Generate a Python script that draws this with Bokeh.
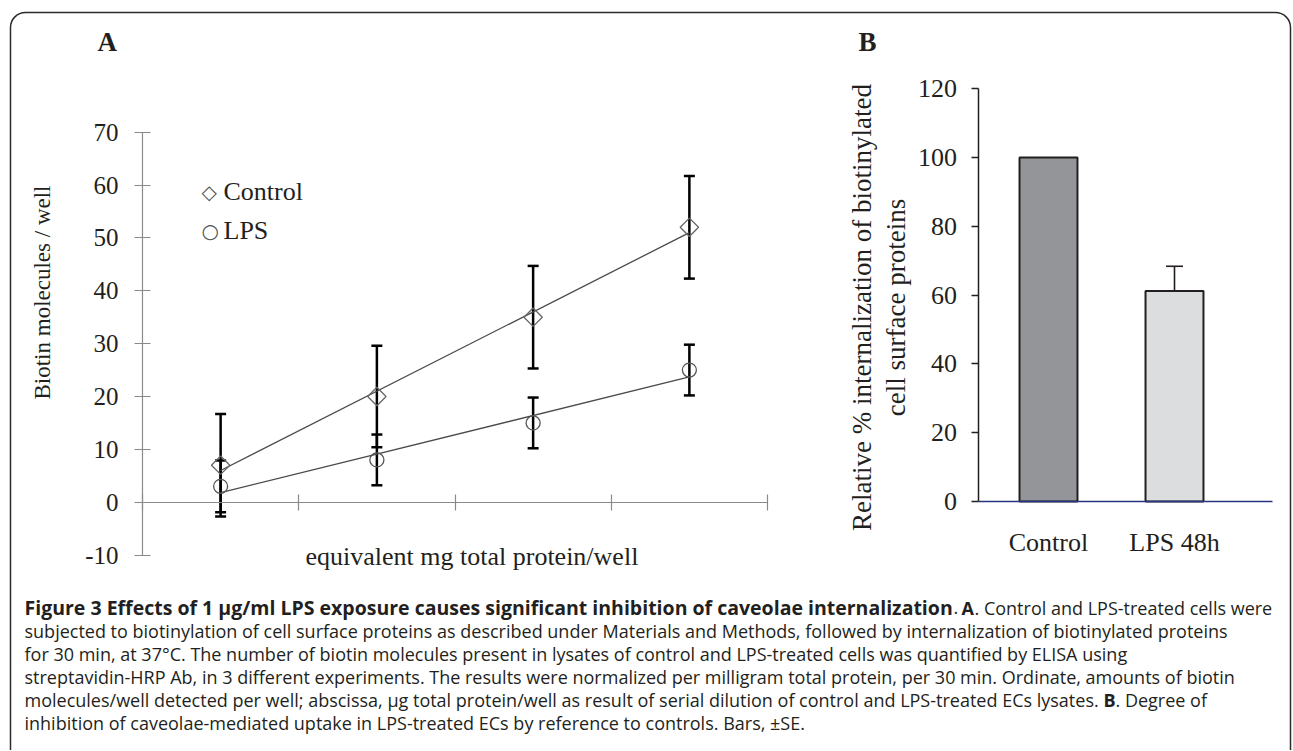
import numpy as np
from bokeh.plotting import figure
from bokeh.models import (Range1d, LinearAxis, FixedTicker, Whisker, TeeHead, Label,
                          BoxAnnotation, ColumnDataSource)
from bokeh.embed import file_html
from bokeh.resources import INLINE

# ---------------- data ----------------
dilution_steps = [1, 2, 3, 4]
control_mean = [7, 20, 35, 52]
control_se = [9.7, 9.6, 9.7, 9.7]
lps_mean = [3, 8, 15, 25]
lps_se = [4.9, 4.8, 4.8, 4.8]
a_yticks = [-10, 0, 10, 20, 30, 40, 50, 60, 70]
a_xticks = [0.5, 1.5, 2.5, 3.5, 4.5]

b_categories = ["Control", "LPS 48h"]
b_values = [100, 61.2]
b_err_index = [1]
b_err_se = [7.2]
b_yticks = [0, 20, 40, 60, 80, 100, 120]

caption_title = "Figure 3 Effects of 1 \u00b5g/ml LPS exposure causes significant inhibition of caveolae internalization"
caption_lines = [
    "subjected to biotinylation of cell surface proteins as described under Materials and Methods, followed by internalization of biotinylated proteins",
    "for 30 min, at 37\u00b0C. The number of biotin molecules present in lysates of control and LPS-treated cells was quantified by ELISA using",
    "streptavidin-HRP Ab, in 3 different experiments. The results were normalized per milligram total protein, per 30 min. Ordinate, amounts of biotin",
]
caption_line5 = "molecules/well detected per well; abscissa, \u00b5g total protein/well as result of serial dilution of control and LPS-treated ECs lysates."
caption_line6 = "inhibition of caveolae-mediated uptake in LPS-treated ECs by reference to controls. Bars, \u00b1SE."

# ---------------- layout (page pixels; canvas starts at page 0,0) ----------------
W, H = 1292, 750
SERIF = "Liberation Serif"
SANS = "Open Sans"
INK = "#231f20"

# panel A mapping
A_X_PX, A_X_STEP = 142.0, 156.25     # x value 0.5 at page x 142
A_Y0_PX, A_Y_SCALE = 501.7, 5.286    # y value 0 at page y 501.7


def ax_v(px):
    return 0.5 + (px - A_X_PX) / A_X_STEP


def ay_v(py):
    return (A_Y0_PX - py) / A_Y_SCALE


# panel B mapping
B_X0_PX, B_X_STEP = 1048.0, 126.0
B_Y0_PX, B_Y_SCALE = 501.0, 3.439


def bx_v(px):
    return (px - B_X0_PX) / B_X_STEP


def by_v(py):
    return (B_Y0_PX - py) / B_Y_SCALE


p = figure(width=W, height=H, x_range=Range1d(0, W), y_range=Range1d(H, 0),
           x_axis_type=None, y_axis_type=None, toolbar_location=None,
           output_backend="svg", min_border=0, min_border_left=0, min_border_right=0,
           min_border_top=0, min_border_bottom=0)
p.outline_line_color = None
p.background_fill_color = "white"
p.border_fill_color = "white"

p.extra_x_ranges = {"ax": Range1d(ax_v(0), ax_v(W)),
                    "bx": Range1d(bx_v(0), bx_v(W))}
p.extra_y_ranges = {"ay": Range1d(ay_v(H), ay_v(0)),
                    "by": Range1d(by_v(H), by_v(0))}

# frame border
p.add_layout(BoxAnnotation(left=10, right=1290, top=12, bottom=1000,
                           fill_alpha=0, line_color="#2b2b2b", line_alpha=1.0,
                           line_width=1.5, border_radius=15))

# ---------------- panel A ----------------
for vals in (control_mean, lps_mean):
    coef = np.polyfit(dilution_steps, vals, 1)
    tx = [dilution_steps[0], dilution_steps[-1]]
    p.line(tx, list(np.polyval(coef, tx)), line_color="#4a4a4a", line_width=1.3,
           x_range_name="ax", y_range_name="ay")

p.scatter(dilution_steps, control_mean, marker="square", angle=np.pi / 4, size=13,
          fill_color=None, line_color="#666666", line_width=1.3,
          x_range_name="ax", y_range_name="ay")
p.scatter(dilution_steps, lps_mean, marker="circle", size=14,
          fill_color=None, line_color="#555555", line_width=1.3,
          x_range_name="ax", y_range_name="ay")

for mean, se in ((control_mean, control_se), (lps_mean, lps_se)):
    src = ColumnDataSource(dict(x=dilution_steps,
                                lower=[m - s for m, s in zip(mean, se)],
                                upper=[m + s for m, s in zip(mean, se)]))
    p.add_layout(Whisker(source=src, base="x", lower="lower", upper="upper",
                         x_range_name="ax", y_range_name="ay",
                         line_color="black", line_width=2.5,
                         upper_head=TeeHead(size=11, line_color="black", line_width=2.5),
                         lower_head=TeeHead(size=11, line_color="black", line_width=2.5)))

yA = LinearAxis(x_range_name="ax", y_range_name="ay", fixed_location=0.5,
                bounds=(a_yticks[0], a_yticks[-1]), ticker=FixedTicker(ticks=a_yticks),
                axis_line_color="#8a8a8a", axis_line_width=1.2,
                major_tick_line_color="#8a8a8a", major_tick_line_width=1.2,
                major_tick_in=8, major_tick_out=8, minor_tick_line_color=None,
                major_label_overrides={t: str(t) for t in a_yticks},
                major_label_text_font=SERIF, major_label_text_font_size="25px",
                major_label_text_color=INK, major_label_standoff=16)
p.add_layout(yA, "left")

xA = LinearAxis(x_range_name="ax", y_range_name="ay", fixed_location=0,
                bounds=(a_xticks[0], a_xticks[-1]), ticker=FixedTicker(ticks=a_xticks),
                axis_line_color="#8a8a8a", axis_line_width=1.2,
                major_tick_line_color="#8a8a8a", major_tick_line_width=1.2,
                major_tick_in=8, major_tick_out=8, minor_tick_line_color=None,
                major_label_overrides={t: "" for t in a_xticks})
p.add_layout(xA, "below")

# ---------------- panel B ----------------
b_idx = list(range(len(b_categories)))
p.vbar(x=b_idx, top=b_values, width=0.46, bottom=0,
       fill_color=["#939598", "#dcdddf"], line_color=INK, line_width=2,
       x_range_name="bx", y_range_name="by")

bsrc = ColumnDataSource(dict(x=b_err_index,
                             lower=[b_values[i] - s for i, s in zip(b_err_index, b_err_se)],
                             upper=[b_values[i] + s for i, s in zip(b_err_index, b_err_se)]))
p.add_layout(Whisker(source=bsrc, base="x", lower="lower", upper="upper",
                     x_range_name="bx", y_range_name="by",
                     line_color=INK, line_width=1.6,
                     upper_head=TeeHead(size=17, line_color=INK, line_width=1.6),
                     lower_head=TeeHead(size=17, line_color=INK, line_width=1.6)))

yB = LinearAxis(x_range_name="bx", y_range_name="by", fixed_location=bx_v(977.5),
                bounds=(b_yticks[0], b_yticks[-1]), ticker=FixedTicker(ticks=b_yticks),
                axis_line_color=INK, axis_line_width=1.5,
                major_tick_line_color=INK, major_tick_line_width=1.3,
                major_tick_in=0, major_tick_out=7, minor_tick_line_color=None,
                major_label_text_font=SERIF, major_label_text_font_size="26px",
                major_label_text_color=INK, major_label_standoff=14)
p.add_layout(yB, "left")

xB = LinearAxis(x_range_name="bx", y_range_name="by", fixed_location=0,
                bounds=(bx_v(977.5), bx_v(1272)), ticker=FixedTicker(ticks=b_idx),
                major_label_overrides={i: c for i, c in zip(b_idx, b_categories)},
                axis_line_color="#2a3580", axis_line_width=1.5,
                major_tick_in=0, major_tick_out=0, minor_tick_line_color=None,
                major_label_text_font=SERIF, major_label_text_font_size="26px",
                major_label_text_color=INK, major_label_standoff=26)
p.add_layout(xB, "below")


# ---------------- texts ----------------
def lab(x, y, text, font=SERIF, size="26px", style="normal", angle=0.0, align="left",
        color=INK):
    p.add_layout(Label(x=x, y=y, text=text, text_font=font, text_font_size=size,
                       text_font_style=style, angle=angle, text_align=align,
                       text_baseline="middle", text_color=color))


lab(97, 41, "A", size="27px", style="bold")
lab(858, 41, "B", size="27px", style="bold")

lab(42, 292, "Biotin molecules / well", size="23px", angle=np.pi / 2, align="center")
lab(305, 556, "equivalent mg total protein/well", size="26px")

lab(201, 191, "\u25c7", font="DejaVu Sans", size="20px", color="#555555")
lab(223, 190.5, "Control", size="26px")
lab(201, 230, "\u25cb", font="DejaVu Sans", size="20px", color="#555555")
lab(223, 230, "LPS", size="26px")

lab(861, 307, "Relative % internalization of biotinylated", size="27px",
    angle=np.pi / 2, align="center")
lab(895, 307, "cell surface proteins", size="27px", angle=np.pi / 2, align="center")

# caption
Y0, LSTEP, X0 = 607, 23, 24
lab(X0, Y0, caption_title, font=SANS, size="19.5px", style="bold")
lab(953, Y0, ".", font=SANS, size="18px")
lab(961, Y0, "A", font=SANS, size="18px", style="bold")
lab(974, Y0, ". Control and LPS-treated cells were", font=SANS, size="18px")
for i, line in enumerate(caption_lines):
    lab(X0, Y0 + LSTEP * (i + 1), line, font=SANS, size="18px")
lab(X0, Y0 + LSTEP * 4, caption_line5, font=SANS, size="18px")
lab(1103, Y0 + LSTEP * 4, "B", font=SANS, size="18px", style="bold")
lab(1115, Y0 + LSTEP * 4, ". Degree of", font=SANS, size="18px")
lab(X0, Y0 + LSTEP * 5, caption_line6, font=SANS, size="18px")

open("out.html", "w").write(file_html(p, INLINE))
